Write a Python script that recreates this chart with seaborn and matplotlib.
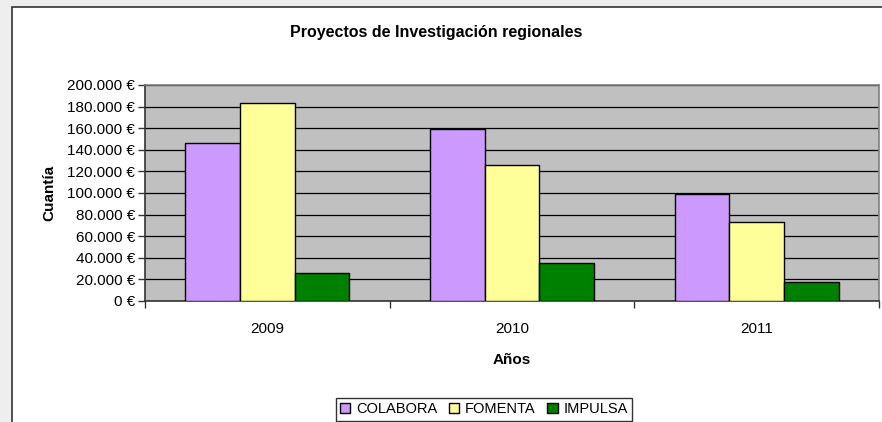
import pandas as pd
import matplotlib
matplotlib.use('Agg')
import matplotlib.pyplot as plt
import seaborn as sns
from matplotlib.patches import Rectangle
from matplotlib.ticker import FuncFormatter, MultipleLocator, FixedLocator

# datos
anios = ['2009', '2010', '2011']
colabora = [146000, 159000, 99500]
fomenta = [183000, 126000, 73000]
impulsa = [26000, 35500, 17500]
programas = ['COLABORA', 'FOMENTA', 'IMPULSA']
colores = ['#cc99ff', '#ffff99', '#008000']

data = pd.DataFrame({
    'Año': anios * 3,
    'Programa': [p for p in programas for _ in anios],
    'Cuantía': colabora + fomenta + impulsa,
})

sns.set_style('white')
plt.rcParams['font.family'] = ['Liberation Sans', 'DejaVu Sans']
plt.rcParams['text.color'] = 'black'
plt.rcParams['axes.labelcolor'] = 'black'
plt.rcParams['xtick.color'] = 'black'
plt.rcParams['ytick.color'] = 'black'

fig = plt.figure(figsize=(8.82, 4.22), dpi=100, facecolor='#eeeeee')
# marco blanco del gráfico
fig.patches.append(Rectangle((12 / 882, -0.1), 1.0, (422 - 7) / 422 + 0.1,
                             transform=fig.transFigure, facecolor='white',
                             edgecolor='#333333', linewidth=1.2, zorder=-5))

ax = fig.add_axes([145 / 882, 1 - 301 / 422, (879 - 145) / 882, (301 - 85) / 422])
ax.set_facecolor('#c0c0c0')

sns.barplot(data=data, x='Año', y='Cuantía', hue='Programa', palette=colores,
            width=0.67, edgecolor='black', linewidth=1, saturation=1, ax=ax,
            zorder=3)

ax.set_ylim(0, 200000)
ax.set_xlim(-0.5, 2.5)
ax.yaxis.set_major_locator(MultipleLocator(20000))
ax.yaxis.set_major_formatter(FuncFormatter(lambda v, p: f'{int(v):,}'.replace(',', '.') + ' €'))
ax.grid(axis='y', color='black', linewidth=0.9, zorder=1)
ax.set_axisbelow(True)

ax.xaxis.set_minor_locator(FixedLocator([-0.5, 0.5, 1.5, 2.5]))
ax.tick_params(axis='x', which='major', length=0, labelsize=11, pad=15)
ax.tick_params(axis='x', which='minor', length=5, width=1, color='#333333', direction='out')
ax.tick_params(axis='y', length=5, width=1, color='#333333', direction='out', labelsize=11, pad=2)
ax.tick_params(bottom=True, left=True, which='both')

for s in ax.spines.values():
    s.set_color('#808080')
    s.set_linewidth(1.2)
ax.spines['left'].set_color('#333333')
ax.spines['bottom'].set_color('#333333')

ax.set_xlabel('Años', fontsize=11, fontweight='bold', labelpad=12)
ax.set_ylabel('Cuantía', fontsize=11, fontweight='bold', labelpad=8)
fig.text(436 / 882, 1 - 32 / 422, 'Proyectos de Investigación regionales',
         ha='center', va='center', fontsize=11.5, fontweight='bold')

ax.legend_.remove()
handles = [Rectangle((0, 0), 1, 1, facecolor=c, edgecolor='black', linewidth=1) for c in colores]
leg = fig.legend(handles, programas, loc='upper center', bbox_to_anchor=(484 / 882, 1 - 398 / 422),
                 ncol=3, frameon=True, fancybox=False, fontsize=10.5,
                 handlelength=0.7, handleheight=0.7, handletextpad=0.4,
                 columnspacing=0.8, borderpad=0.3, borderaxespad=0)
leg.get_frame().set_edgecolor('black')
leg.get_frame().set_linewidth(1)

fig.savefig('out.png', dpi=100, facecolor=fig.get_facecolor())
